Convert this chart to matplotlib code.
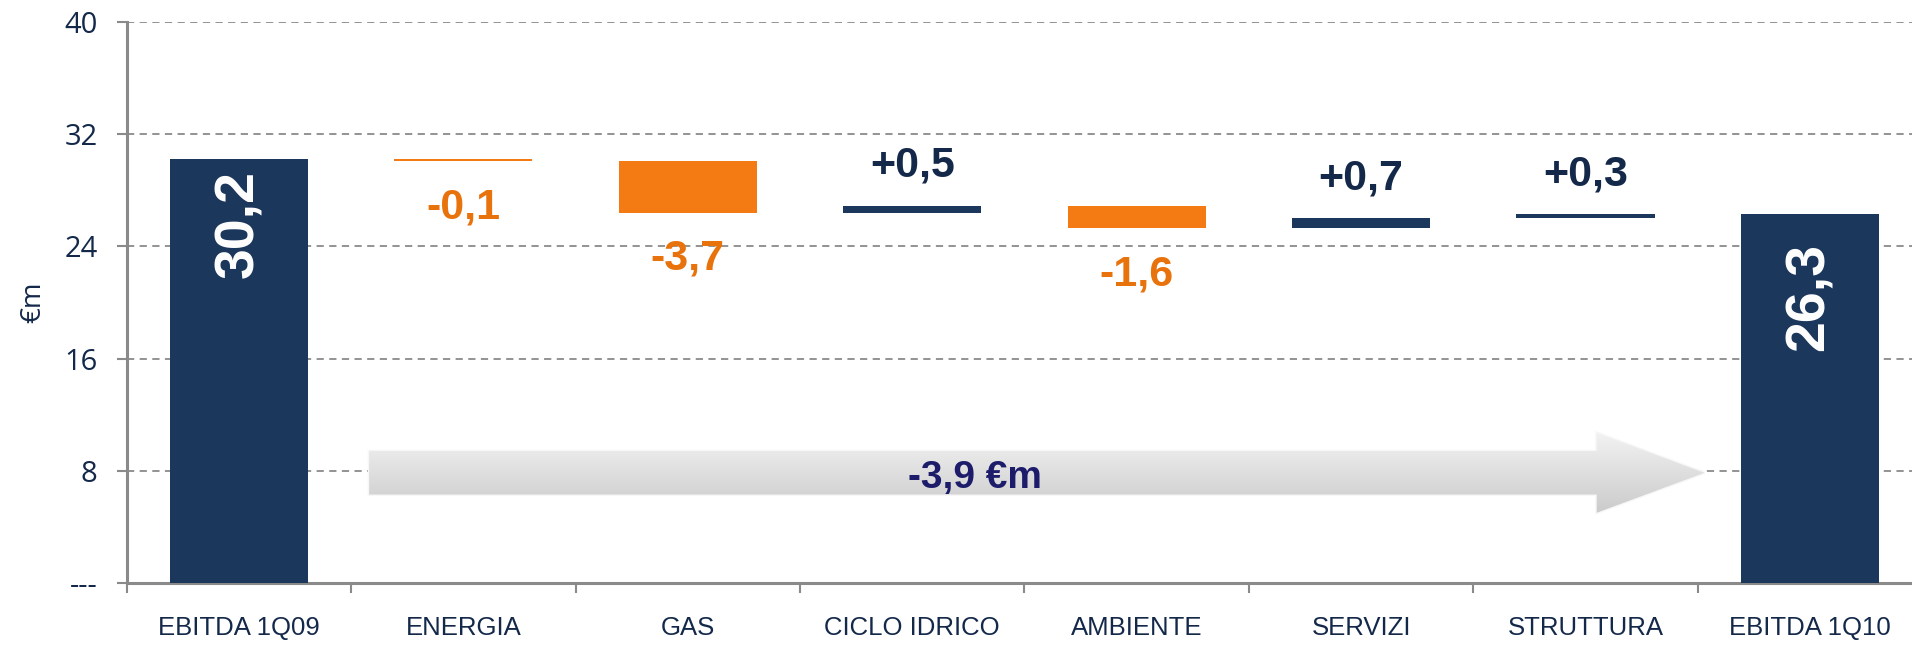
import numpy as np
import matplotlib
matplotlib.use('Agg')
import matplotlib.pyplot as plt
from matplotlib.patches import Polygon
from matplotlib.colors import LinearSegmentedColormap

categories = ['EBITDA 1Q09', 'ENERGIA', 'GAS', 'CICLO IDRICO', 'AMBIENTE',
              'SERVIZI', 'STRUTTURA', 'EBITDA 1Q10']
start_value = 30.2
deltas = [-0.1, -3.7, 0.5, -1.6, 0.7, 0.3]
end_value = 26.3
delta_labels = ['-0,1', '-3,7', '+0,5', '-1,6', '+0,7', '+0,3']
total_labels = ['30,2', '26,3']
total_change = '-3,9 €m'
yticks = [0, 8, 16, 24, 32, 40]
ytick_labels = ['---', '8', '16', '24', '32', '40']

NAVY = '#1B375C'
ORANGE = '#F47A14'
ORANGE_TXT = '#E8720C'
NAVY_TXT = '#14294A'
GREY = '#8A8A8A'
LAB_FONT = ['Liberation Sans', 'DejaVu Sans']
AX_FONT = ['Open Sans', 'DejaVu Sans']

plt.rcParams['font.family'] = LAB_FONT

fig = plt.figure(figsize=(19.12, 6.45), dpi=100)
ax = fig.add_axes([0.0663, 0.0963, 0.939, 0.8697])

x = np.arange(len(categories))
width = 0.615

# totals
ax.bar(x[0], start_value, width, color=NAVY, zorder=3)
ax.bar(x[-1], end_value, width, color=NAVY, zorder=3)

# floating deltas
level = start_value
for i, d in enumerate(deltas):
    lo = min(level, level + d)
    col = ORANGE if d < 0 else NAVY
    ax.bar(x[i + 1], abs(d), width, bottom=lo, color=col, zorder=3)
    if d < 0:
        ax.text(x[i + 1], lo - 3.3, delta_labels[i], ha='center', va='center',
                fontsize=31, fontweight='bold', color=ORANGE_TXT, zorder=5)
    else:
        ax.text(x[i + 1], lo + abs(d) + 2.85, delta_labels[i], ha='center',
                va='center', fontsize=31, fontweight='bold', color=NAVY_TXT, zorder=5)
    level += d

ax.text(x[0], start_value - 4.6, total_labels[0], rotation=90, ha='center',
        va='center', fontsize=40, fontweight='bold', color='white', zorder=5)
ax.text(x[-1], end_value - 5.9, total_labels[1], rotation=90, ha='center',
        va='center', fontsize=40, fontweight='bold', color='white', zorder=5)

# big gradient arrow
arrow_pts = [(0.58, 6.3), (6.05, 6.3), (6.05, 5.0), (6.53, 7.85),
             (6.05, 10.7), (6.05, 9.4), (0.58, 9.4)]
arrow = Polygon(arrow_pts, closed=True, facecolor='none', edgecolor='#f7f7f7',
                linewidth=2, zorder=4)
ax.add_patch(arrow)
grad = np.linspace(0, 1, 256).reshape(-1, 1)
img = ax.imshow(grad, cmap=LinearSegmentedColormap.from_list(
    'g', ['#cbcbcb', '#f2f2f2']), origin='lower', aspect='auto',
    extent=(0.58, 6.53, 5.0, 10.7), zorder=4)
img.set_clip_path(arrow)
ax.text(3.28, 7.45, total_change, ha='center', va='center', fontsize=28,
        fontweight='bold', color='#1C1C6B', zorder=6)

ax.set_xlim(-0.5, len(categories) - 0.5)
ax.set_ylim(0, 40)

ax.set_xticks(x)
ax.set_xticklabels(categories, fontsize=18.5, color=NAVY_TXT)
ax.set_xticks(np.arange(len(categories) + 1) - 0.5, minor=True)
ax.tick_params(axis='x', which='major', length=0, pad=24)
ax.tick_params(axis='x', which='minor', length=7, width=1.5, color=GREY,
               direction='out')

ax.set_yticks(yticks)
ax.set_yticklabels(ytick_labels, fontsize=21, color=NAVY_TXT, family=AX_FONT)
ax.tick_params(axis='y', length=7, width=1.5, color=GREY, pad=14)
ax.set_ylabel('€m', fontsize=20, color=NAVY_TXT, labelpad=12, family=AX_FONT)

ax.grid(axis='y', color=GREY, linestyle=(0, (4, 3)), linewidth=1.3, zorder=0)
ax.set_axisbelow(True)

for s in ['top', 'right']:
    ax.spines[s].set_visible(False)
for s in ['left', 'bottom']:
    ax.spines[s].set_color(GREY)
    ax.spines[s].set_linewidth(2.2)

plt.savefig('out.png', dpi=100)
